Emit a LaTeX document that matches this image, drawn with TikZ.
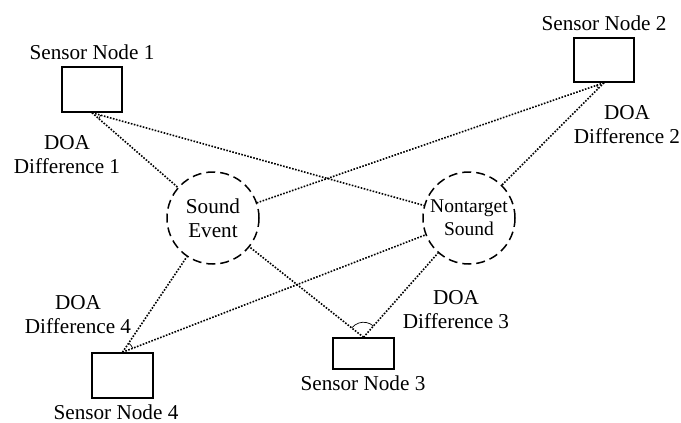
\documentclass[tikz,border=0pt]{standalone}
\usepackage{fontspec}
\setmainfont{Liberation Serif}
\usetikzlibrary{angles}
\begin{document}
\begin{tikzpicture}[x=1pt,y=-1pt,
  every node/.style={font=\fontsize{21.2}{24}\selectfont, inner sep=0pt},
  sensorbox/.style={draw, line width=1.5pt, fill=white},
  soundsrc/.style={draw, circle, line width=1.5pt, minimum size=92pt,
    dash pattern=on 9pt off 5pt, align=center},
  link/.style={line width=1.6pt, dash pattern=on 1.6pt off 1.5pt},
  doaarc/.style={draw, line width=0.7pt}]
\useasboundingbox (0,0) rectangle (681,423);

% sensor nodes
\node[sensorbox, minimum width=60pt, minimum height=45pt] (n1) at (92,89.5) {};
\node[sensorbox, minimum width=60pt, minimum height=44pt] (n2) at (604,60) {};
\node[sensorbox, minimum width=61pt, minimum height=31pt] (n3) at (363.5,353.5) {};
\node[sensorbox, minimum width=61pt, minimum height=45pt] (n4) at (122.5,375.5) {};

\node (t1) at (92,52) {Sensor Node 1};
\node (t2) at (604,23) {Sensor Node 2};
\node (t3) at (363,383) {Sensor Node 3};
\node (t4) at (116,412) {Sensor Node 4};

% sound sources
\node[soundsrc] (se) at (213,218) {Sound\\Event};
\node[soundsrc, font=\fontsize{19.5}{23}\selectfont] (nt) at (469,218) {Nontarget\\Sound};

% points where the bearings meet the sensors
\coordinate (a1) at (n1.south);
\coordinate (a2) at (n2.south);
\coordinate (a3) at (n3.north);
\coordinate (a4) at (n4.north);

% bearings
\draw[link] (a1) -- (se);
\draw[link] (a1) -- (nt);
\draw[link] (a2) -- (se);
\draw[link] (a2) -- (nt);
\draw[link] (a3) -- (se);
\draw[link] (a3) -- (nt);
\draw[link] (a4) -- (se);
\draw[link] (a4) -- (nt);

% DOA differences
\pic[doaarc, angle radius=9pt] {angle = se--a1--nt};
\pic[doaarc, angle radius=8pt] {angle = se--a2--nt};
\pic[doaarc, angle radius=15pt] {angle = nt--a3--se};
\pic[doaarc, angle radius=11pt] {angle = nt--a4--se};

\node[align=center] (d1) at (67,155) {DOA\\Difference 1};
\node[align=center] (d2) at (627,125) {DOA\\Difference 2};
\node[align=center] (d3) at (456,310) {DOA\\Difference 3};
\node[align=center] (d4) at (78,315) {DOA\\Difference 4};
\end{tikzpicture}
\end{document}
